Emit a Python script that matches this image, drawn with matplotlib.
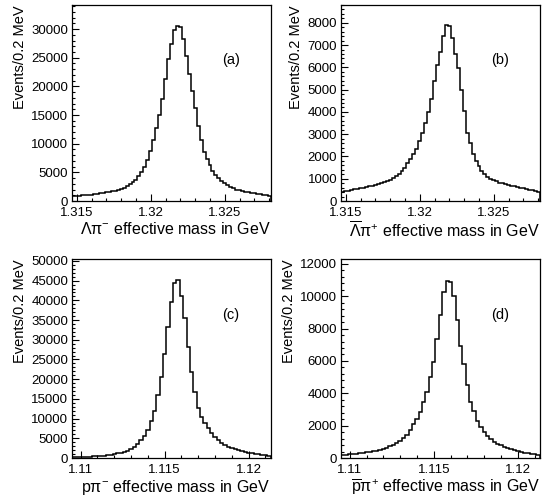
import numpy as np
import matplotlib
matplotlib.use("Agg")
import matplotlib.pyplot as plt
from matplotlib.ticker import FixedLocator, MultipleLocator, FuncFormatter

plt.rcParams["font.family"] = ["Liberation Sans", "DejaVu Sans"]
plt.rcParams["mathtext.fontset"] = "custom"
plt.rcParams["mathtext.rm"] = "Liberation Sans"
plt.rcParams["mathtext.it"] = "Liberation Sans"

# bin range (GeV), 0.2 MeV bins
xi_range = (1.3147, 1.3281)
lam_range = (1.1095, 1.1213)
bin_width = 0.0002

# (a) Lambda pi-  events per bin
xi_minus = [880, 910, 950, 990, 1030, 1080, 1130, 1190, 1250, 1320,
            1400, 1490, 1590, 1700, 1830, 1980, 2150, 2350, 2600, 2900,
            3250, 3700, 4300, 5000, 5900, 7200, 8800, 10700, 12750, 15000,
            17800, 21300, 24700, 27400, 29800, 30600, 30400, 28200, 25300, 22200,
            19200, 16200, 13100, 10700, 8600, 7300, 6200, 5300, 4600, 4000,
            3500, 3100, 2750, 2450, 2200, 2000, 1850, 1720, 1600, 1500,
            1400, 1320, 1240, 1160, 1080, 1000, 920]
# (b) anti-Lambda pi+
xi_plus = [420, 450, 470, 500, 520, 540, 570, 600, 630, 660,
           690, 720, 760, 800, 850, 900, 960, 1030, 1120, 1220,
           1350, 1500, 1700, 1900, 2100, 2350, 2700, 3050, 3500, 4000,
           4600, 5400, 6100, 6700, 7400, 7900, 7850, 7300, 6600, 5950,
           5000, 4050, 3050, 2600, 2100, 1800, 1550, 1350, 1200, 1100,
           1000, 940, 880, 830, 790, 750, 720, 690, 660, 630,
           600, 570, 540, 510, 480, 450, 410]
# (c) p pi-
lam = [240, 260, 280, 300, 320, 350, 390, 440, 500, 580,
       680, 800, 960, 1150, 1380, 1600, 1900, 2250, 2750, 3500,
       4500, 5700, 7200, 9300, 12000, 15900, 20600, 26300, 33300, 39600,
       44300, 45200, 41000, 35500, 28200, 21900, 16800, 12800, 10500, 8800,
       7500, 6300, 5300, 4500, 3800, 3300, 2900, 2550, 2250, 2000,
       1750, 1550, 1350, 1180, 1030, 900, 780, 660, 560]
# (d) pbar pi+
lam_bar = [200, 210, 220, 240, 260, 280, 310, 340, 370, 410,
           460, 510, 570, 640, 720, 820, 940, 1080, 1250, 1450,
           1750, 2100, 2400, 2850, 3450, 4100, 5000, 5950, 7350, 8850,
           10250, 10950, 10850, 10000, 8550, 6950, 5800, 4500, 3450, 2900,
           2300, 1900, 1600, 1370, 1170, 1000, 880, 780, 690, 610,
           540, 480, 420, 370, 330, 290, 260, 230, 200]

xi_ticks = [1.315, 1.32, 1.325]
lam_ticks = [1.11, 1.115, 1.12]

panels = [
    (xi_minus, xi_range, xi_ticks, 34200, 5000, "(a)",
     r"$\Lambda\mathrm{\pi}^{-}$ effective mass in GeV"),
    (xi_plus, xi_range, xi_ticks, 8800, 1000, "(b)",
     r"$\overline{\Lambda}\mathrm{\pi}^{+}$ effective mass in GeV"),
    (lam, lam_range, lam_ticks, 50500, 5000, "(c)",
     r"$\mathrm{p}\mathrm{\pi}^{-}$ effective mass in GeV"),
    (lam_bar, lam_range, lam_ticks, 12300, 2000, "(d)",
     r"$\overline{\mathrm{p}}\mathrm{\pi}^{+}$ effective mass in GeV"),
]

W, H = 546, 498
boxes = [(72.3, 5, 270.7, 201), (341.3, 5, 539.7, 201),
         (72.3, 259, 270.5, 458), (341.3, 259, 539.7, 458)]

fig = plt.figure(figsize=(W / 100, H / 100), dpi=100)

for (vals, rng, ticks, ymax, ystep, tag, xlabel), (x0, y0, x1, y1) in zip(panels, boxes):
    ax = fig.add_axes([x0 / W, 1 - y1 / H, (x1 - x0) / W, (y1 - y0) / H])
    nb = len(vals)
    edges = np.linspace(rng[0], rng[0] + nb * bin_width, nb + 1)
    ax.stairs(vals, edges, color="black", lw=1.1)
    ax.set_xlim(rng)
    ax.set_ylim(0, ymax)

    ax.xaxis.set_major_locator(FixedLocator(ticks))
    ax.xaxis.set_minor_locator(MultipleLocator(0.001))
    ax.xaxis.set_major_formatter(FuncFormatter(lambda v, p: f"{v:g}"))
    ax.yaxis.set_major_locator(MultipleLocator(ystep))
    ax.yaxis.set_minor_locator(MultipleLocator(ystep / 5))
    ax.yaxis.set_major_formatter(FuncFormatter(lambda v, p: f"{v:.0f}"))

    ax.tick_params(which="both", direction="in", top=False, right=False,
                   labelsize=9.5, width=0.8)
    ax.tick_params(which="major", length=5)
    ax.tick_params(which="minor", length=2.5)
    ax.tick_params(axis="x", which="major", pad=4.5)
    ax.tick_params(axis="y", which="major", pad=3)
    for sp in ax.spines.values():
        sp.set_linewidth(0.9)

    ax.text(0.8, 0.72, tag, transform=ax.transAxes, fontsize=10.5, ha="center", va="center")
    ax.set_xlabel(xlabel, loc="right", fontsize=11.5, labelpad=1.5)
    ax.set_ylabel("Events/0.2 MeV", loc="top", fontsize=10.5, labelpad=3)

fig.savefig("out.png", dpi=100)
